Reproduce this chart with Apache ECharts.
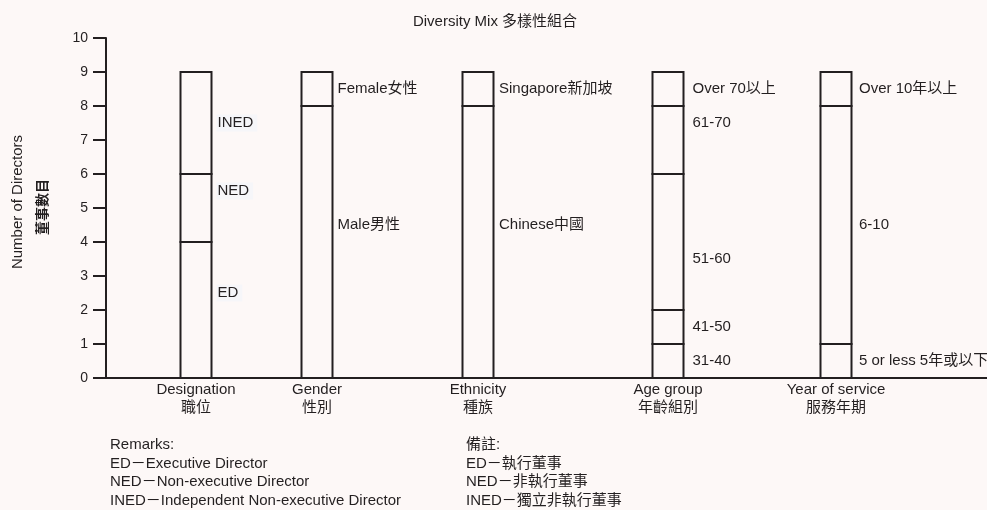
<!DOCTYPE html>
<html>
<head>
<meta charset="utf-8">
<script src="https://cdn.jsdelivr.net/npm/echarts@6/dist/echarts.min.js"></script>
<style>
  html, body { margin: 0; padding: 0; background: #fdf8f7; }
  #chart { width: 987px; height: 510px; }
</style>
</head>
<body>
<div id="chart"></div>
<script>
// ---- data ----
const categories = ['Designation\n職位', 'Gender\n性別', 'Ethnicity\n種族', 'Age group\n年齡組別', 'Year of service\n服務年期'];

const designationLabels = ['ED', 'NED', 'INED'];
const designationCounts = [4, 2, 3];

const genderLabels = ['Male男性', 'Female女性'];
const genderCounts = [8, 1];

const ethnicityLabels = ['Chinese中國', 'Singapore新加坡'];
const ethnicityCounts = [8, 1];

const ageLabels = ['31-40', '41-50', '51-60', '61-70', 'Over 70以上'];
const ageCounts = [1, 1, 4, 2, 1];

const serviceLabels = ['5 or less 5年或以下', '6-10', 'Over 10年以上'];
const serviceCounts = [1, 7, 1];

const yTickMin = 0, yTickMax = 10, yTickStep = 1;

const titleText = 'Diversity Mix 多樣性組合';
const yNameEn = 'Number of Directors';
const yNameZh = '董事數目';
const remarksEn = ['Remarks:', 'ED－Executive Director', 'NED－Non-executive Director', 'INED－Independent Non-executive Director'];
const remarksZh = ['備註:', 'ED－執行董事', 'NED－非執行董事', 'INED－獨立非執行董事'];

// ---- layout ----
const FONT = "'Liberation Sans', Arial, 'Noto Sans CJK TC', sans-serif";
const INK = '#231f20';
const xSpan = 881;                               // x axis runs 0..xSpan
const columnCentre = [90, 211, 372, 562, 730];  // column centres along the x axis
const barWidth = 31;
const labelGap = [4, 4, 4.5, 8, 6.5];             // gap between bar edge and its labels
const labelNudge = { 'NED': 0.5, 'ED': 0.5, 'Male男性': 0.5, 'Chinese中國': 0.5, '61-70': 0.5, '51-60': -0.5 };
const boxedColumns = [0];                         // labels drawn on a light plate

// build stacked segments: one rectangle per group within each column
const columns = [
  [designationLabels, designationCounts],
  [genderLabels, genderCounts],
  [ethnicityLabels, ethnicityCounts],
  [ageLabels, ageCounts],
  [serviceLabels, serviceCounts]
];
const segments = [];
columns.forEach(([labels, counts], c) => {
  let base = 0;
  counts.forEach((n, i) => {
    segments.push({ col: c, start: base, end: base + n, label: labels[i] });
    base += n;
  });
});

const chart = echarts.init(document.getElementById('chart'), null, { renderer: 'canvas' });

function renderSegment(params, api) {
  const seg = segments[params.dataIndex];
  const x = api.value(0);
  const pBottom = api.coord([x, api.value(1)]);
  const pTop = api.coord([x, api.value(2)]);
  const mid = (seg.start + seg.end) / 2 + (labelNudge[seg.label] || 0);
  const pLabel = api.coord([x, mid]);
  const boxed = boxedColumns.indexOf(seg.col) >= 0;
  const textStyle = {
    text: seg.label,
    font: '15px ' + FONT,
    fill: INK,
    align: 'left', textAlign: 'left',
    verticalAlign: 'middle', textVerticalAlign: 'middle'
  };
  if (boxed) {
    textStyle.backgroundColor = '#f6f6f9';
    textStyle.padding = [1, 4, 1, 1];
  }
  return {
    type: 'group',
    children: [
      {
        type: 'rect',
        shape: { x: pBottom[0] - barWidth / 2, y: pTop[1], width: barWidth, height: pBottom[1] - pTop[1] },
        style: { fill: 'rgba(0,0,0,0)', stroke: INK, lineWidth: 2 }
      },
      {
        type: 'text',
        x: pBottom[0] + barWidth / 2 + 1 + labelGap[seg.col],
        y: pLabel[1],
        style: textStyle
      }
    ]
  };
}

function textEl(text, x, y, opts) {
  return Object.assign({
    type: 'text', x: x, y: y,
    style: Object.assign({
      text: text, font: '15px ' + FONT, fill: INK,
      align: 'left', textAlign: 'left',
      verticalAlign: 'middle', textVerticalAlign: 'middle'
    }, (opts && opts.style) || {})
  }, (opts && opts.el) || {});
}

const remarkRows = [445, 463.5, 482, 501];
const graphics = [
  textEl(titleText, 495, 22, { style: { align: 'center', textAlign: 'center' } }),
  textEl(yNameEn, 17.5, 202, { style: { align: 'center', textAlign: 'center' }, el: { rotation: Math.PI / 2 } }),
  textEl(yNameZh, 43.5, 207, { style: { align: 'center', textAlign: 'center', font: 'bold 14px ' + FONT }, el: { rotation: Math.PI / 2 } })
];
remarksEn.forEach((t, i) => graphics.push(textEl(t, 110, remarkRows[i])));
remarksZh.forEach((t, i) => graphics.push(textEl(t, 466, remarkRows[i])));

chart.setOption({
  backgroundColor: '#fdf8f7',
  animation: false,
  grid: { left: 106, right: 0, top: 38, bottom: 132, containLabel: false },
  xAxis: {
    type: 'value',
    min: 0,
    max: xSpan,
    splitLine: { show: false },
    axisTick: { show: false },
    axisLine: { show: true, lineStyle: { color: INK, width: 2 } },
    axisLabel: {
      customValues: columnCentre,
      formatter: v => {
        const i = columnCentre.indexOf(v);
        return i >= 0 ? categories[i] : '';
      },
      color: INK,
      fontFamily: FONT,
      fontSize: 15,
      lineHeight: 18,
      margin: 3,
      align: 'center'
    }
  },
  yAxis: {
    type: 'value',
    min: yTickMin,
    max: yTickMax,
    interval: yTickStep,
    splitLine: { show: false },
    axisLine: { show: true, lineStyle: { color: INK, width: 2 } },
    axisTick: { show: true, length: 13, lineStyle: { color: INK, width: 2 } },
    axisLabel: { color: INK, fontFamily: FONT, fontSize: 14, margin: 18 }
  },
  series: [{
    type: 'custom',
    renderItem: renderSegment,
    encode: { x: 0, y: [1, 2] },
    data: segments.map(s => [columnCentre[s.col], s.start, s.end]),
    clip: false
  }],
  graphic: graphics
});
</script>
</body>
</html>
